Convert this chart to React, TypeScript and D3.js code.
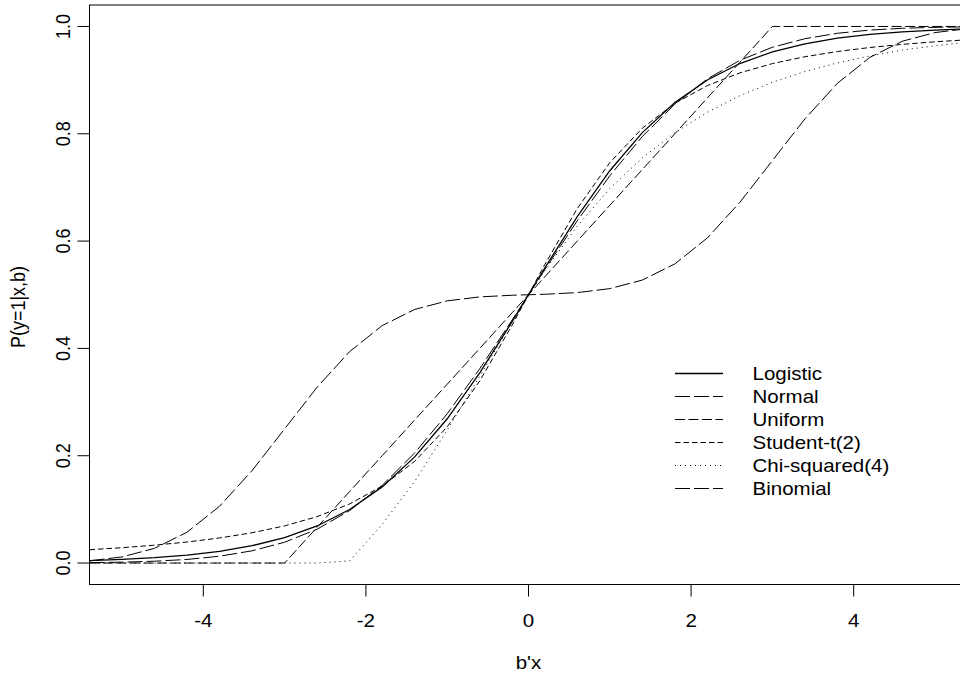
import React from 'react';
import * as d3 from 'd3';

// grid of b'x values used for every curve
const XS = [-5.4, -5.0, -4.6, -4.2, -3.8, -3.4, -3.0, -2.6, -2.2, -1.8, -1.4, -1.0, -0.6, -0.2,
  0.2, 0.6, 1.0, 1.4, 1.8, 2.2, 2.6, 3.0, 3.4, 3.8, 4.2, 4.6, 5.0, 5.4];

const LOGISTIC = [0.0045, 0.0067, 0.0100, 0.0148, 0.0219, 0.0323, 0.0474, 0.0691, 0.0998, 0.1419, 0.1978, 0.2689, 0.3543, 0.4502,
  0.5498, 0.6457, 0.7311, 0.8022, 0.8581, 0.9002, 0.9309, 0.9526, 0.9677, 0.9781, 0.9852, 0.9900, 0.9933, 0.9955];
const NORMAL = [0.0007, 0.0016, 0.0034, 0.0067, 0.0127, 0.0228, 0.0388, 0.0631, 0.0978, 0.1448, 0.2051, 0.2782, 0.3621, 0.4532,
  0.5468, 0.6379, 0.7218, 0.7949, 0.8552, 0.9022, 0.9369, 0.9612, 0.9772, 0.9873, 0.9933, 0.9966, 0.9984, 0.9993];
const UNIFORM = [0, 0, 0, 0, 0, 0, 0, 0.0667, 0.1333, 0.2, 0.2667, 0.3333, 0.4, 0.4667,
  0.5333, 0.6, 0.6667, 0.7333, 0.8, 0.8667, 0.9333, 1, 1, 1, 1, 1, 1, 1];
const STUDENT = [0.0248, 0.0286, 0.0333, 0.0392, 0.0467, 0.0564, 0.0692, 0.0865, 0.1102, 0.1433, 0.1896, 0.2538, 0.3393, 0.4438,
  0.5562, 0.6607, 0.7462, 0.8104, 0.8567, 0.8898, 0.9135, 0.9308, 0.9436, 0.9533, 0.9608, 0.9667, 0.9714, 0.9752];
const CHISQ = [0, 0, 0, 0, 0, 0, 0, 0, 0.004, 0.072, 0.152, 0.248, 0.348, 0.450,
  0.545, 0.628, 0.698, 0.755, 0.802, 0.840, 0.871, 0.896, 0.916, 0.932, 0.945, 0.956, 0.964, 0.971];
const BINOMIAL = [0.0041, 0.0114, 0.0274, 0.0575, 0.1059, 0.1723, 0.25, 0.3277, 0.3941, 0.4425, 0.4726, 0.4886, 0.4960, 0.4991,
  0.5009, 0.5040, 0.5114, 0.5274, 0.5575, 0.6059, 0.6723, 0.75, 0.8277, 0.8941, 0.9425, 0.9726, 0.9886, 0.9959];

const SERIES = [
  { name: 'Logistic', values: LOGISTIC, dash: 'none', width: 1.3 },
  { name: 'Normal', values: NORMAL, dash: '15 4', width: 1 },
  { name: 'Uniform', values: UNIFORM, dash: '10 3.5', width: 1 },
  { name: 'Student-t(2)', values: STUDENT, dash: '5.5 3', width: 1 },
  { name: 'Chi-squared(4)', values: CHISQ, dash: '1 4', width: 1 },
  { name: 'Binomial', values: BINOMIAL, dash: '15 4', width: 1 },
];

const X_TICKS = [-4, -2, 0, 2, 4];
const Y_TICKS = [0, 0.2, 0.4, 0.6, 0.8, 1.0];

const W = 960;
const H = 679;
const FONT = '"Liberation Sans", Arial, Helvetica, sans-serif';
const STRETCH = 1.14; // the original text is a little wider than tall

const App: React.FC = () => {
  const plot = { left: 89.5, right: 967.5, top: 5, bottom: 584.5 };
  const x = d3.scaleLinear().domain([-5.4, 5.4]).range([plot.left, plot.right]);
  const y = d3.scaleLinear().domain([-0.04, 1.04]).range([plot.bottom, plot.top]);

  const line = d3.line<number>()
    .x((d, i) => x(XS[i]))
    .y(d => y(d));

  const legendX = 675;
  const legendY = 373.5;
  const legendStep = 23;

  return (
    <svg width={W} height={H} style={{ position: 'absolute', left: 0, top: 0, background: '#fff' }}
      fontFamily={FONT} fontSize={18}>
      <defs>
        <clipPath id="plot-clip">
          <rect x={plot.left} y={plot.top} width={plot.right - plot.left} height={plot.bottom - plot.top} />
        </clipPath>
      </defs>
      <rect width={W} height={H} fill="#fff" />

      {/* curves */}
      <g clipPath="url(#plot-clip)" fill="none" stroke="#000">
        {SERIES.map(s => (
          <path key={s.name} d={line(s.values) || ''} strokeWidth={s.width}
            strokeDasharray={s.dash === 'none' ? undefined : s.dash} />
        ))}
      </g>

      {/* box */}
      <rect x={plot.left} y={plot.top} width={plot.right - plot.left} height={plot.bottom - plot.top}
        fill="none" stroke="#000" strokeWidth={1} />

      {/* x axis */}
      {X_TICKS.map(t => (
        <g key={'x' + t}>
          <line x1={x(t)} x2={x(t)} y1={plot.bottom} y2={plot.bottom + 12} stroke="#000" />
          <text transform={`translate(${x(t)},626.5) scale(${STRETCH},1)`} textAnchor="middle">{t}</text>
        </g>
      ))}
      <text transform={`translate(${x(0)},669) scale(${STRETCH},1)`} textAnchor="middle">b'x</text>

      {/* y axis */}
      {Y_TICKS.map(t => (
        <g key={'y' + t}>
          <line x1={plot.left - 12} x2={plot.left} y1={y(t)} y2={y(t)} stroke="#000" />
          <text transform={`translate(70,${y(t)}) scale(${STRETCH},1) rotate(-90)`} textAnchor="middle">{t.toFixed(1)}</text>
        </g>
      ))}
      <text transform={`translate(25,307) scale(${STRETCH},1) rotate(-90)`} textAnchor="middle">P(y=1|x,b)</text>

      {/* legend */}
      {SERIES.map((s, i) => (
        <g key={'lg' + s.name}>
          <line x1={legendX} x2={legendX + 48} y1={legendY + i * legendStep} y2={legendY + i * legendStep}
            stroke="#000" strokeWidth={s.width} strokeDasharray={s.dash === 'none' ? undefined : s.dash} />
          <text transform={`translate(752.5,${legendY + i * legendStep + 6.5}) scale(${STRETCH},1)`}>{s.name}</text>
        </g>
      ))}
    </svg>
  );
};

export default App;
